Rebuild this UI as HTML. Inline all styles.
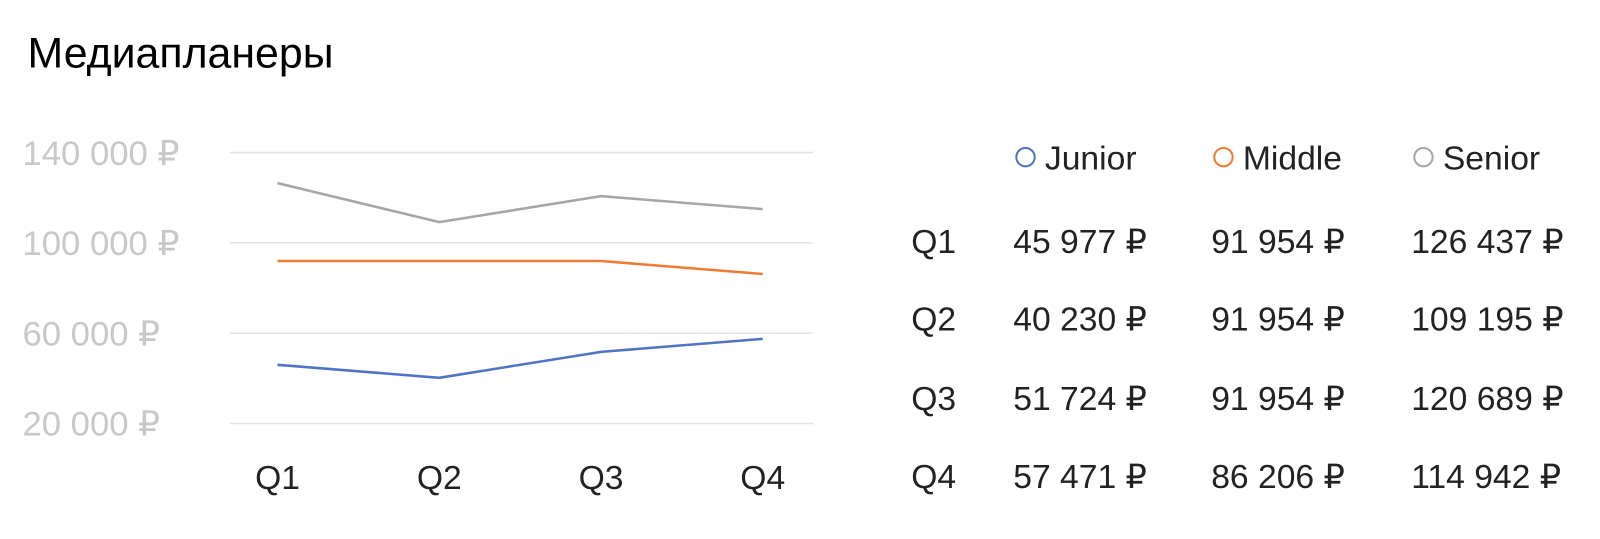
<!DOCTYPE html>
<html><head><meta charset="utf-8"><style>
body{margin:0;width:1600px;height:539px;background:#fff;overflow:hidden;font-family:"Liberation Sans",sans-serif;}
svg{position:absolute;left:0;top:0}
</style></head><body>
<svg width="1600" height="539">
<g transform="scale(1.0204)">
<text x="27" y="66" font-size="42" fill="#000" font-family="Liberation Sans, sans-serif">Медиапланеры</text>
<g id="grid"></g><g id="lines"></g><g id="table"></g>
</g>
</svg>
<script>
const categories=["Q1","Q2","Q3","Q4"];
const junior=[45977,40230,51724,57471];
const middle=[91954,91954,91954,86206];
const senior=[126437,109195,120689,114942];
const yTicks=[140000,100000,60000,20000];
const seriesNames=["Junior","Middle","Senior"];
const colors=["#4f74c4","#ee7b33","#a6a6a6"];
const NS="http://www.w3.org/2000/svg";
function y(v){return 415-(v-20000)/40000*88.5;}
function x(i){return 272+i*158.5;}
function fmt(v){return String(v).replace(/\B(?=(\d{3})+(?!\d))/g," ")+" ₽";}
function mk(tag,attrs,parent,text){const e=document.createElementNS(NS,tag);for(const k in attrs)e.setAttribute(k,attrs[k]);if(text!==undefined)e.textContent=text;parent.appendChild(e);return e;}
const grid=document.getElementById('grid');
yTicks.forEach(t=>{
 const l=mk('line',{x1:225,x2:797,y1:y(t),y2:y(t),stroke:'#e3e3e3','stroke-width':1.5},grid);
 
 
 const tx=mk('text',{x:22,y:y(t)+12,'font-size':34,fill:'#c8c8c8'},grid,fmt(t));
 
 
});
categories.forEach((c,i)=>{
 const tx=mk('text',{x:x(i),y:479,'font-size':33,fill:'#222','text-anchor':'middle'},grid,c);
 
 
});
const lines=document.getElementById('lines');
[junior,middle,senior].forEach((s,k)=>{
 const p=mk('polyline',{points:s.map((v,i)=>x(i)+','+y(v)).join(' '),fill:'none',stroke:colors[k],'stroke-width':2.5},lines);
 
 
});
const table=document.getElementById('table');
const colX=[993,1187,1383];
seriesNames.forEach((n,k)=>{
 const c=mk('circle',{cx:colX[k]+12,cy:154,r:9,fill:'none',stroke:colors[k],'stroke-width':2},table);
 
 
 const t=mk('text',{x:colX[k]+31,y:166,'font-size':33,fill:'#222'},table,n);
 
 
});
const rowsY=[248,324,402,478];
categories.forEach((c,i)=>{
 const t=mk('text',{x:893,y:rowsY[i],'font-size':33,fill:'#222'},table,c);
 
 
 [junior,middle,senior].forEach((s,k)=>{
  const v=mk('text',{x:colX[k],y:rowsY[i],'font-size':33,fill:'#222'},table,fmt(s[i]));
  
  
 });
});
</script>
</body></html>
